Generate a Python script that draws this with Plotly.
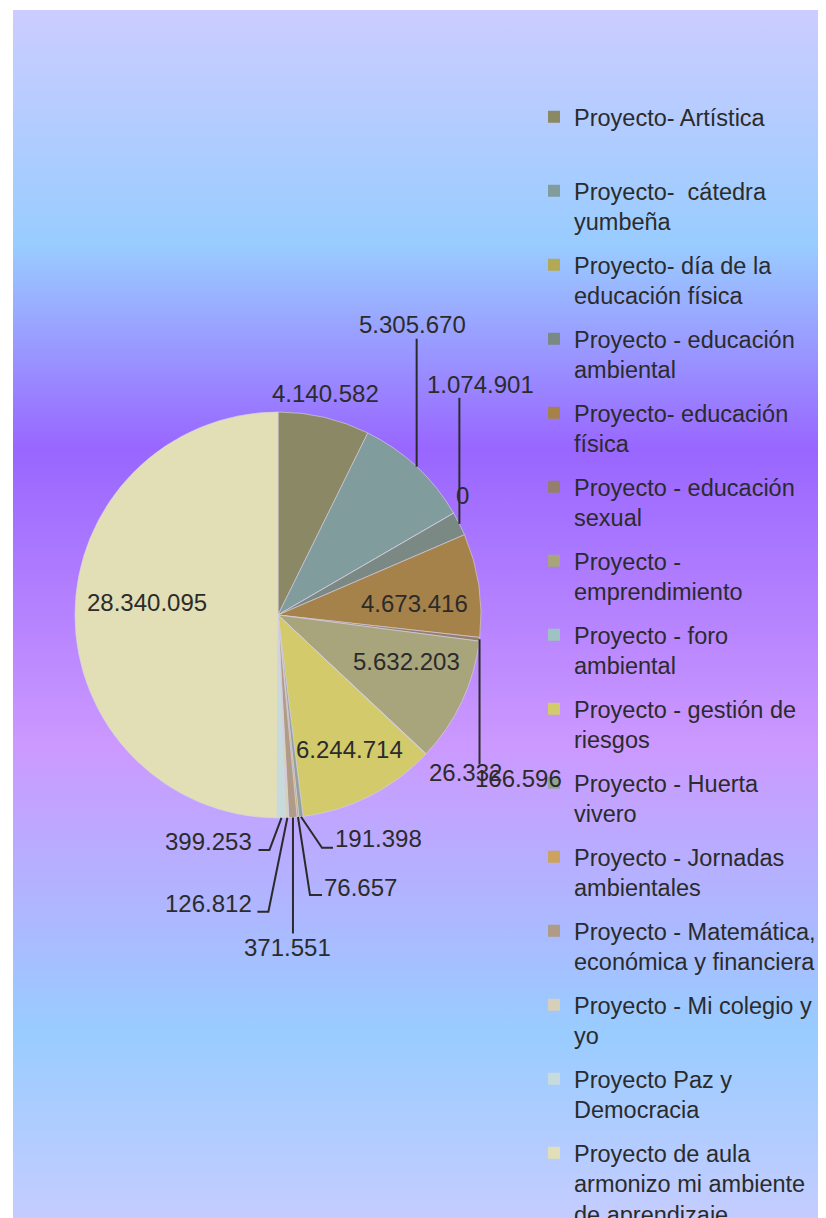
import base64
import math

import plotly.graph_objects as go

# data (value per project, clockwise from 12 o'clock)
projects = [
    "Proyecto- Artística",
    "Proyecto-  cátedra yumbeña",
    "Proyecto- día de la educación física",
    "Proyecto - educación ambiental",
    "Proyecto- educación física",
    "Proyecto - educación sexual",
    "Proyecto - emprendimiento",
    "Proyecto - foro ambiental",
    "Proyecto - gestión de riesgos",
    "Proyecto - Huerta vivero",
    "Proyecto - Jornadas ambientales",
    "Proyecto - Matemática, económica y financiera",
    "Proyecto - Mi colegio y yo",
    "Proyecto Paz y Democracia",
    "Proyecto de aula armonizo mi ambiente de aprendizaje",
]
amounts = [
    4140582, 5305670, 0, 1074901, 4673416, 166596, 5632203, 26332,
    6244714, 191398, 76657, 371551, 126812, 399253, 28340095,
]
legend_text = [
    "Proyecto- Artística<br> ",
    "Proyecto-\u00a0 cátedra<br>yumbeña",
    "Proyecto- día de la<br>educación física",
    "Proyecto - educación<br>ambiental",
    "Proyecto- educación<br>física",
    "Proyecto - educación<br>sexual",
    "Proyecto -<br>emprendimiento",
    "Proyecto - foro<br>ambiental",
    "Proyecto - gestión de<br>riesgos",
    "Proyecto - Huerta<br>vivero",
    "Proyecto - Jornadas<br>ambientales",
    "Proyecto - Matemática,<br>económica y financiera",
    "Proyecto - Mi colegio y<br>yo",
    "Proyecto Paz y<br>Democracia",
    "Proyecto de aula<br>armonizo mi ambiente<br>de aprendizaje",
]

# styling
COLORS = [
    "#8b8865", "#809c9c", "#b3a954", "#7b8984", "#a6824b", "#937f6c",
    "#a8a47c", "#9ec3c3", "#d3cb6b", "#93a39a", "#cca35e", "#b09c86",
    "#d6d0ba", "#c8dbdc", "#e2deb6",
]
TEXT = "#2b2b2b"
FONT = "Liberation Sans, Arial, sans-serif"
W, H = 818, 1240
CX, CY, R = 270, 607, 203

# label centre offset from slice edge (px) and leader-line bends (px from edge)
LABEL_OFFSET = [
    (1, -24), (-4, -142), (9, -18), (21, -139), (-64, 18), (39, 139),
    (-55, -40), (40, 19), (-20, -47), (78, 22), (63, 70), (-5, 130),
    (-79, 86), (-73, 24), (72, -12),
]
LEADERS = {
    1: [(0, -128)],
    3: [(0, -126)],
    5: [(0, 125)],
    9: [(21, 31), (32, 31)],
    10: [(12, 78), (24, 78)],
    11: [(0, 116)],
    12: [(-19, 94), (-30, 94)],
    13: [(-12, 32), (-23, 32)],
}


def px(x):
    return x / W


def py(y):
    return 1 - y / H


def fmt(v):
    return f"{v:,}".replace(",", ".")


# background gradient as an svg image
stops = [(0, "#ccccff"), (0.190, "#99ccff"), (0.355, "#9966ff"),
         (0.594, "#cc99ff"), (0.824, "#99ccff"), (1, "#ccccff")]
svg = (
    "<svg xmlns='http://www.w3.org/2000/svg' width='100' height='100' preserveAspectRatio='none'>"
    "<defs><linearGradient id='g' x1='0' y1='0' x2='0' y2='1'>"
    + "".join(f"<stop offset='{o}' stop-color='{c}'/>" for o, c in stops)
    + "</linearGradient></defs><rect width='100' height='100' fill='url(#g)'/></svg>"
)
bg_src = "data:image/svg+xml;base64," + base64.b64encode(svg.encode()).decode()

fig = go.Figure()
fig.add_trace(
    go.Pie(
        labels=projects,
        values=amounts,
        sort=False,
        direction="clockwise",
        rotation=0,
        textinfo="none",
        marker=dict(colors=COLORS, line=dict(color="rgba(215,210,225,0.8)", width=0.8)),
        domain=dict(x=[px(CX - R), px(CX + R)], y=[py(CY + R), py(CY - R)]),
        showlegend=False,
        hovertemplate="%{label}<br>%{value}<extra></extra>",
    )
)

# legend entries
for name, color in zip(legend_text, COLORS):
    fig.add_trace(
        go.Scatter(
            x=[None], y=[None], mode="markers", name=name, legendgroup=name,
            marker=dict(symbol="square", size=10, color=color),
        )
    )

# data labels with leader lines
total = sum(amounts)
cum = 0
annotations = []
shapes = []
for i, v in enumerate(amounts):
    mid = (cum + v / 2) / total * 2 * math.pi
    cum += v
    ax, ay = CX + R * math.sin(mid), CY - R * math.cos(mid)
    dx, dy = LABEL_OFFSET[i]
    annotations.append(dict(
        x=px(ax + dx), y=py(ay + dy), xref="paper", yref="paper",
        text=fmt(v), showarrow=False, xanchor="center", yanchor="middle",
        font=dict(size=24, color=TEXT, family=FONT),
    ))
    if i in LEADERS:
        pts = [(ax, ay)] + [(ax + ox, ay + oy) for ox, oy in LEADERS[i]]
        path = "M " + " L ".join(f"{px(x):.5f},{py(y):.5f}" for x, y in pts)
        shapes.append(dict(type="path", path=path, xref="paper", yref="paper",
                           line=dict(color=TEXT, width=2)))

fig.update_layout(
    width=W,
    height=H,
    autosize=False,
    margin=dict(l=0, r=0, t=0, b=0, autoexpand=False),
    paper_bgcolor="white",
    plot_bgcolor="rgba(0,0,0,0)",
    xaxis=dict(visible=False),
    yaxis=dict(visible=False),
    font=dict(family=FONT, color=TEXT),
    images=[dict(source=bg_src, xref="paper", yref="paper", x=px(5), y=py(2),
                 sizex=1 - px(5), sizey=1 - (1 - py(2)), xanchor="left",
                 yanchor="top", sizing="stretch", layer="below")],
    legend=dict(
        x=px(526), y=py(87), xanchor="left", yanchor="top",
        font=dict(size=23.5, color=TEXT, family=FONT),
        traceorder="grouped", tracegroupgap=9.9, valign="top",
        bgcolor="rgba(0,0,0,0)", itemsizing="constant",
    ),
    annotations=annotations,
    shapes=shapes,
)

fig.write_html("out.html")
